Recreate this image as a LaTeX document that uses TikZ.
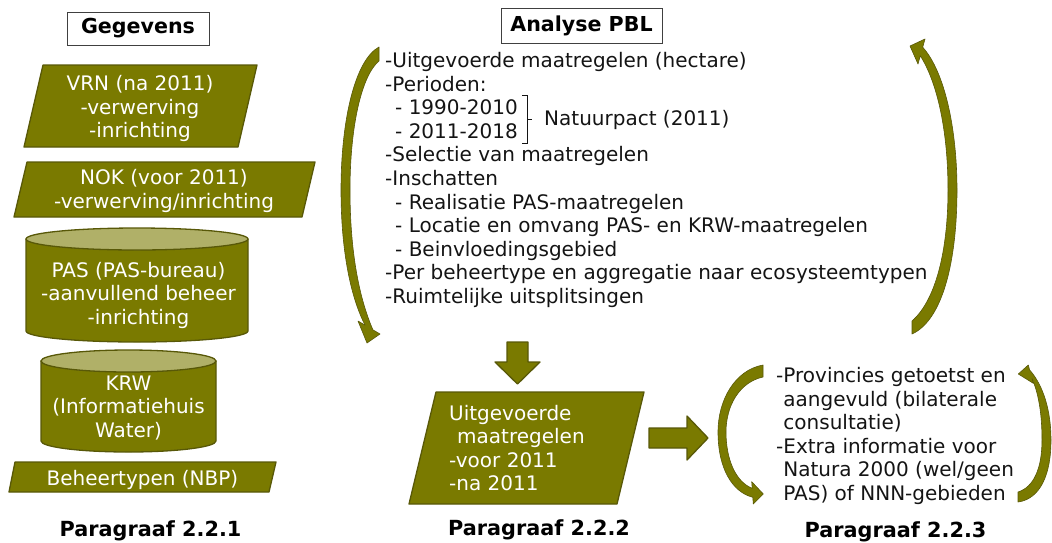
\documentclass[tikz,border=0pt]{standalone}
\usepackage{fontspec}
\setmainfont{DejaVu Sans}
\usepackage{xcolor}
\definecolor{Olijf}{RGB}{122,122,0}
\definecolor{OlijfDonker}{RGB}{88,88,8}
\definecolor{OlijfLicht}{RGB}{176,176,104}
\definecolor{Inkt}{RGB}{20,20,20}
\tikzset{
	vorm/.style={fill=Olijf, draw=OlijfDonker, line width=1.3pt, line join=round},
	deksel/.style={fill=OlijfLicht, draw=OlijfDonker, line width=1.3pt},
	pijl/.style={fill=Olijf, draw=OlijfDonker, line width=0.6pt, line join=round},
	wittekst/.style={text=white, align=center, inner sep=0pt, font=\fontsize{20}{23.5}\selectfont},
	lijsttekst/.style={text=Inkt, align=left, inner sep=0pt, font=\fontsize{20}{23.6}\selectfont},
	kop/.style={draw=black!75, line width=0.8pt, fill=white, text=black, font=\bfseries\fontsize{20.6}{24}\selectfont},
	paragraaf/.style={text=black, anchor=base, inner sep=0pt, font=\bfseries\fontsize{20.8}{24}\selectfont}
}

\begin{document}
\begin{tikzpicture}[x=1pt, y=-1pt]
	\useasboundingbox (0,0) rectangle (1052,542);
	% Kolom 1: gegevens
	\node[kop, minimum width=142pt, minimum height=33pt] (gegevens) at (138,28.5) {Gegevens};
	\draw[vorm] (24,147) -- (43,65) -- (257,65) -- (238,147) -- cycle;
	\node[wittekst] (vrn) at (140,109.3) {\strut VRN (na 2011)\\-verwerving\\-inrichting\strut};
	\draw[vorm] (14,217) -- (27,162) -- (315,162) -- (302,217) -- cycle;
	\node[wittekst] (nok) at (164,191.8) {\strut NOK (voor 2011)\\-verwerving/inrichting\strut};
	\draw[vorm] (26,239) -- (26,331) arc[start angle=180, end angle=0, x radius=111, y radius=11] -- (248,239) -- cycle;
	\draw[deksel] (137,239) ellipse[x radius=111, y radius=11];
	\node[wittekst] (pas) at (138.5,295.8) {\strut PAS (PAS-bureau)\\-aanvullend beheer\\-inrichting\strut};
	\draw[vorm] (41,361) -- (41,441) arc[start angle=180, end angle=0, x radius=87.5, y radius=11] -- (216,361) -- cycle;
	\draw[deksel] (128.5,361) ellipse[x radius=87.5, y radius=11];
	\node[wittekst] (krw) at (128.5,408.8) {\strut KRW\\(Informatiehuis\\Water)\strut};
	\draw[vorm] (9,492) -- (15,462) -- (276,462) -- (269,492) -- cycle;
	\node[wittekst] (nbp) at (142.5,480.3) {\strut Beheertypen (NBP)\strut};
	\node[paragraaf] (par1) at (150.5,536.5) {Paragraaf 2.2.1};

	% Kolom 2: analyse
	\node[kop, minimum width=161pt, minimum height=35pt] (analysekop) at (581.5,25.5) {Analyse PBL};
	\node[lijsttekst, anchor=west] (analyse) at (385,180.8) {\strut-Uitgevoerde maatregelen (hectare)\\-Perioden:\\\hspace*{10pt}- 1990-2010\\\hspace*{10pt}- 2011-2018\\-Selectie van maatregelen\\-Inschatten\\\hspace*{10pt}- Realisatie PAS-maatregelen\\\hspace*{10pt}- Locatie en omvang PAS- en KRW-maatregelen\\\hspace*{10pt}- Beinvloedingsgebied\\-Per beheertype en aggregatie naar ecosysteemtypen\\-Ruimtelijke uitsplitsingen\strut};
	\draw[Inkt, line width=0.8pt] (522,95) -- (527,95) -- (527,143) -- (522,143);
	\draw[Inkt, line width=0.8pt] (527,119) -- (532,119);
	\node[lijsttekst, anchor=base west] (natuurpact) at (544,125) {Natuurpact (2011)};
	\draw[pijl] (379,47) .. controls (355,60) and (341,120) .. (341,190) .. controls (341,255) and (352,300) .. (365.1,325.2) -- (358,321) -- (367,343) -- (380,334) -- (372.9,329.8) .. controls (360,300) and (350,255) .. (350,190) .. controls (350,125) and (362,75) .. (379,61) -- cycle;
	\draw[pijl] (912,321) .. controls (936,300) and (948,250) .. (948,190) .. controls (948,130) and (937,82) .. (920.3,55.8) -- (918,64) -- (910,46) -- (925,39) -- (922.7,47.2) .. controls (945,72) and (957,130) .. (957,190) .. controls (957,260) and (943,320) .. (912,334) -- cycle;
	\draw[vorm] (507,342) -- (528,342) -- (528,362) -- (540,362) -- (517.5,384) -- (495,362) -- (507,362) -- cycle;
	\draw[vorm] (409,504) -- (436,392) -- (644,392) -- (617,504) -- cycle;
	\node[wittekst, align=left, anchor=west] (uitgevoerd) at (449,450.8) {\strut Uitgevoerde\\\hspace*{8pt}maatregelen\\-voor 2011\\-na 2011\strut};
	\node[paragraaf] (par2) at (539,535.5) {Paragraaf 2.2.2};

	% Kolom 3: controle door provincies
	\draw[vorm] (649,428) -- (687,428) -- (687,416) -- (708,438) -- (687,460) -- (687,448) -- (649,448) -- cycle;
	\draw[pijl] (763,365) .. controls (735,370) and (718,400) .. (718,432) .. controls (718,468) and (732,492) .. (752.8,497.3) -- (753.3,504) -- (763.3,494) -- (751.7,481.7) -- (752.2,488.3) .. controls (736,482) and (726,460) .. (726,432) .. controls (726,405) and (740,382) .. (763,377) -- cycle;
	\draw[pijl] (1018,492) .. controls (1034,487) and (1042,468) .. (1042,440) .. controls (1042,412) and (1038,392) .. (1032,378.5) -- (1033.3,383.3) -- (1018.3,374) -- (1028.3,365) -- (1029.6,369.9) .. controls (1043,385) and (1051,410) .. (1051,440) .. controls (1051,475) and (1040,499) .. (1018,502) -- cycle;
	\node[lijsttekst, anchor=west] (controle) at (776,436.8) {\strut-Provincies getoetst en\\\hphantom{-}aangevuld (bilaterale\\\hphantom{-}consultatie)\\-Extra informatie voor\\\hphantom{-}Natura 2000 (wel/geen\\\hphantom{-}PAS) of NNN-gebieden\strut};
	\node[paragraaf] (par3) at (895.5,537) {Paragraaf 2.2.3};
\end{tikzpicture}
\end{document}
